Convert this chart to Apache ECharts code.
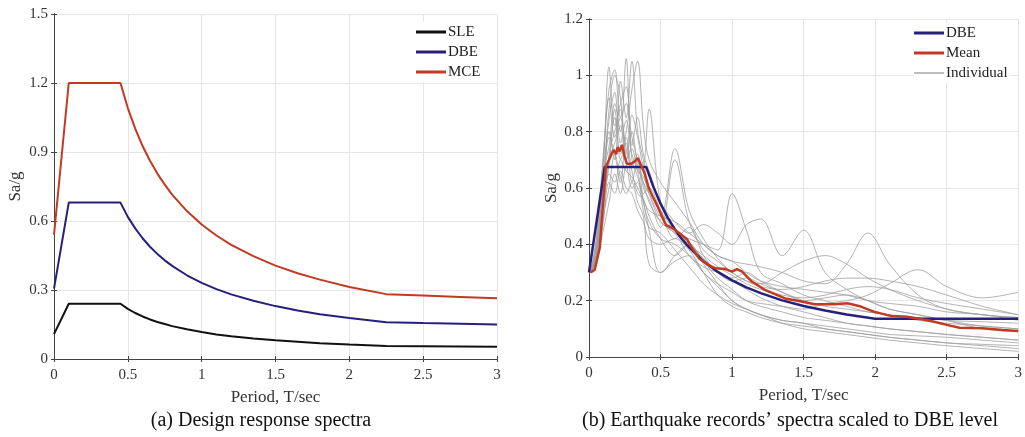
<!DOCTYPE html>
<html>
<head>
<meta charset="utf-8">
<script src="https://cdn.jsdelivr.net/npm/echarts@6/dist/echarts.min.js"></script>
<style>
html,body{margin:0;padding:0;background:#fff;}
#c{width:1025px;height:437px;}
</style>
</head>
<body>
<div id="c"></div>
<script>
// ---- (a) Design response spectra ----
const periodA = [0, 0.1, 0.45, 0.5, 0.55, 0.6, 0.65, 0.7, 0.75, 0.8, 0.9, 1.0, 1.1, 1.2, 1.35, 1.5, 1.65, 1.8, 2.0, 2.25, 2.5, 2.75, 3.0];
const sleValues = [0.108, 0.24, 0.24, 0.218, 0.200, 0.185, 0.172, 0.161, 0.152, 0.143, 0.129, 0.117, 0.107, 0.099, 0.089, 0.081, 0.075, 0.069, 0.063, 0.056, 0.055, 0.054, 0.053];
const dbeValues = [0.306, 0.68, 0.68, 0.618, 0.568, 0.525, 0.488, 0.457, 0.429, 0.405, 0.364, 0.331, 0.304, 0.281, 0.253, 0.230, 0.211, 0.195, 0.178, 0.160, 0.156, 0.153, 0.150];
const mceValues = [0.54, 1.2, 1.2, 1.091, 1.002, 0.926, 0.862, 0.806, 0.758, 0.715, 0.643, 0.585, 0.537, 0.496, 0.447, 0.406, 0.373, 0.345, 0.313, 0.282, 0.276, 0.270, 0.264];

// ---- (b) Records scaled to DBE ----
const dbeBPeriod = [0, 0.11, 0.40, 0.45, 0.5, 0.55, 0.6, 0.65, 0.7, 0.8, 0.9, 1.0, 1.1, 1.2, 1.35, 1.5, 1.65, 1.8, 2.0, 3.0];
const dbeBValues = [0.30, 0.675, 0.675, 0.604, 0.544, 0.495, 0.453, 0.418, 0.389, 0.340, 0.302, 0.272, 0.247, 0.227, 0.201, 0.181, 0.165, 0.151, 0.136, 0.136];

const meanPeriod = [0.012, 0.04, 0.076, 0.10, 0.118, 0.14, 0.157, 0.173, 0.19, 0.2, 0.215, 0.23, 0.25, 0.265, 0.295, 0.318, 0.342, 0.358, 0.388, 0.418, 0.445, 0.48, 0.515, 0.538, 0.584, 0.63, 0.688, 0.722, 0.768, 0.826, 0.884, 0.953, 1.0, 1.034, 1.07, 1.138, 1.23, 1.37, 1.484, 1.576, 1.715, 1.807, 1.90, 1.99, 2.107, 2.222, 2.384, 2.50, 2.59, 2.75, 2.89, 3.0];
const meanValues = [0.30, 0.31, 0.39, 0.56, 0.676, 0.70, 0.72, 0.735, 0.72, 0.745, 0.73, 0.753, 0.71, 0.686, 0.686, 0.694, 0.706, 0.688, 0.653, 0.60, 0.57, 0.534, 0.493, 0.469, 0.457, 0.44, 0.416, 0.386, 0.351, 0.329, 0.315, 0.312, 0.303, 0.312, 0.303, 0.268, 0.238, 0.208, 0.197, 0.187, 0.187, 0.191, 0.179, 0.161, 0.146, 0.143, 0.129, 0.114, 0.104, 0.102, 0.096, 0.092];

const recPeriod = [0.01, 0.05, 0.1, 0.14, 0.18, 0.22, 0.26, 0.3, 0.34, 0.38, 0.42, 0.5, 0.6, 0.7, 0.8, 0.9, 1.0, 1.1, 1.2, 1.35, 1.5, 1.65, 1.8, 1.95, 2.1, 2.3, 2.5, 2.75, 3.0];
const record01 = [0.30,0.42,0.72,0.95,1.02,0.85,0.90,0.78,0.70,0.62,0.55,0.48,0.44,0.40,0.35,0.30,0.27,0.24,0.21,0.18,0.16,0.14,0.12,0.11,0.10,0.09,0.08,0.07,0.06];
const record02 = [0.30,0.38,0.60,0.80,0.70,0.98,0.85,1.05,0.80,0.70,0.60,0.52,0.45,0.42,0.40,0.38,0.58,0.45,0.30,0.26,0.22,0.20,0.18,0.16,0.15,0.13,0.12,0.11,0.10];
const record03 = [0.30,0.40,0.65,0.75,0.90,0.80,1.06,0.75,0.85,0.72,0.66,0.55,0.48,0.44,0.47,0.44,0.40,0.47,0.49,0.36,0.45,0.30,0.24,0.20,0.17,0.15,0.13,0.11,0.10];
const record04 = [0.30,0.36,0.55,0.70,0.85,0.72,0.80,0.95,1.05,0.82,0.70,0.62,0.55,0.48,0.40,0.36,0.34,0.33,0.32,0.30,0.27,0.26,0.33,0.44,0.33,0.22,0.17,0.15,0.14];
const record05 = [0.30,0.35,0.50,0.65,0.62,0.70,0.66,0.64,0.60,0.55,0.45,0.30,0.34,0.36,0.30,0.26,0.23,0.20,0.19,0.18,0.17,0.19,0.20,0.22,0.26,0.31,0.25,0.21,0.23];
const record06 = [0.30,0.38,0.62,0.88,1.00,0.92,0.70,0.80,0.68,0.62,0.58,0.50,0.74,0.52,0.42,0.35,0.30,0.27,0.26,0.30,0.34,0.36,0.33,0.28,0.24,0.20,0.17,0.15,0.14];
const record07 = [0.30,0.34,0.48,0.62,0.58,0.66,0.60,0.58,0.52,0.48,0.42,0.40,0.42,0.38,0.30,0.22,0.18,0.16,0.14,0.12,0.11,0.10,0.09,0.08,0.07,0.06,0.05,0.045,0.04];
const record08 = [0.30,0.40,0.70,0.92,0.78,0.85,0.74,0.68,0.72,0.60,0.56,0.46,0.70,0.48,0.38,0.34,0.30,0.27,0.25,0.24,0.25,0.27,0.28,0.28,0.27,0.25,0.22,0.18,0.15];
const record09 = [0.30,0.36,0.58,0.78,0.72,0.62,0.78,0.66,0.58,0.56,0.50,0.42,0.36,0.40,0.33,0.26,0.20,0.17,0.15,0.13,0.12,0.10,0.09,0.08,0.07,0.06,0.05,0.04,0.03];
const record10 = [0.30,0.35,0.52,0.72,0.80,0.88,0.72,0.86,0.78,0.68,0.88,0.55,0.46,0.40,0.36,0.32,0.29,0.26,0.24,0.22,0.21,0.22,0.24,0.25,0.24,0.21,0.19,0.17,0.15];
const record11 = [0.30,0.33,0.50,0.60,0.72,0.64,0.58,0.62,0.55,0.50,0.33,0.30,0.36,0.40,0.34,0.28,0.24,0.20,0.18,0.16,0.14,0.13,0.12,0.11,0.10,0.09,0.08,0.07,0.06];
const record12 = [0.30,0.37,0.66,0.84,0.94,0.76,0.84,0.72,0.66,0.58,0.60,0.52,0.42,0.46,0.36,0.30,0.27,0.28,0.26,0.23,0.20,0.18,0.17,0.16,0.15,0.14,0.13,0.125,0.12];
const record13 = [0.30,0.34,0.45,0.55,0.65,0.58,0.68,0.60,0.62,0.52,0.46,0.44,0.38,0.32,0.26,0.22,0.19,0.17,0.15,0.12,0.10,0.09,0.08,0.07,0.06,0.05,0.04,0.03,0.02];
const record14 = [0.30,0.39,0.68,1.03,0.82,0.90,0.96,0.70,0.64,0.56,0.52,0.50,0.48,0.44,0.40,0.36,0.34,0.30,0.27,0.25,0.24,0.23,0.22,0.20,0.19,0.18,0.16,0.15,0.13];
const record15 = [0.30,0.36,0.60,0.70,0.76,0.82,0.70,0.74,0.66,0.64,0.58,0.48,0.44,0.36,0.32,0.30,0.28,0.30,0.27,0.23,0.20,0.21,0.22,0.20,0.17,0.15,0.13,0.10,0.09];
const record16 = [0.30,0.35,0.55,0.68,0.88,0.70,0.76,0.62,0.70,0.55,0.48,0.42,0.40,0.36,0.30,0.25,0.20,0.17,0.15,0.13,0.12,0.11,0.10,0.09,0.08,0.075,0.07,0.06,0.05];
const records = [record01, record02, record03, record04, record05, record06, record07, record08, record09, record10, record11, record12, record13, record14, record15, record16];

const FONT = 'Liberation Serif';
const zip = (xs, ys) => xs.map((x, i) => [x, ys[i]]);

const chart = echarts.init(document.getElementById('c'), null, {renderer: 'canvas'});

function xAx(gi, top) {
  return {
    type: 'value', gridIndex: gi, min: 0, max: 3, interval: 0.5, position: top ? 'top' : 'bottom',
    name: top ? '' : 'Period, T/sec', nameLocation: 'middle', nameGap: 30,
    nameTextStyle: {fontFamily: FONT, fontSize: 17, color: '#333'},
    axisLine: {show: true, lineStyle: {color: '#444', width: 1}},
    axisTick: {show: true, inside: true, length: 3, lineStyle: {color: '#444'}},
    axisLabel: {show: !top, fontFamily: FONT, fontSize: 15, color: '#333', margin: 9},
    splitLine: {show: !top, lineStyle: {color: '#e6e6e6', width: 1}}
  };
}
function yAx(gi, max, interval, gap, right) {
  return {
    type: 'value', gridIndex: gi, min: 0, max: max, interval: interval, position: right ? 'right' : 'left',
    name: right ? '' : 'Sa/g', nameLocation: 'middle', nameGap: gap, nameRotate: 90,
    nameTextStyle: {fontFamily: FONT, fontSize: 17, color: '#333'},
    axisLine: {show: true, lineStyle: {color: '#444', width: 1}},
    axisTick: {show: true, inside: true, length: 3, lineStyle: {color: '#444'}},
    axisLabel: {show: !right, fontFamily: FONT, fontSize: 15, color: '#333', margin: 6},
    splitLine: {show: !right, lineStyle: {color: '#e6e6e6', width: 1}}
  };
}

const series = [
  {name: 'SLE', type: 'line', xAxisIndex: 0, yAxisIndex: 0, data: zip(periodA, sleValues), symbol: 'none', lineStyle: {color: '#111111', width: 2}, itemStyle: {color: '#111111'}},
  {name: 'DBE', type: 'line', xAxisIndex: 0, yAxisIndex: 0, data: zip(periodA, dbeValues), symbol: 'none', lineStyle: {color: '#26207a', width: 2}, itemStyle: {color: '#26207a'}},
  {name: 'MCE', type: 'line', xAxisIndex: 0, yAxisIndex: 0, data: zip(periodA, mceValues), symbol: 'none', lineStyle: {color: '#c23a22', width: 2}, itemStyle: {color: '#c23a22'}}
];
records.forEach(r => {
  series.push({name: 'Individual', type: 'line', xAxisIndex: 2, yAxisIndex: 2, data: zip(recPeriod, r), symbol: 'none', smooth: 0.35, z: 1,
    lineStyle: {color: '#a0a0a0', width: 0.8}, itemStyle: {color: '#7a7a7a'}, emphasis: {disabled: true}});
});
series.push({name: 'DBE ', type: 'line', xAxisIndex: 2, yAxisIndex: 2, data: zip(dbeBPeriod, dbeBValues), symbol: 'none', z: 3, lineStyle: {color: '#26207a', width: 2.5}, itemStyle: {color: '#26207a'}});
series.push({name: 'Mean', type: 'line', xAxisIndex: 2, yAxisIndex: 2, data: zip(meanPeriod, meanValues), symbol: 'none', z: 4, lineStyle: {color: '#c23a22', width: 2.5}, itemStyle: {color: '#c23a22'}});

const thinIcon = 'path://M0 0L0.01 0L0.01 0.01Z M0 1L30 1L30 2L0 2Z M0 3L0.01 3L0.01 2.99Z';
const legendBase = {
  orient: 'vertical', itemWidth: 30, itemHeight: 3, itemGap: 0, padding: [0, 2, 0, 0],
  backgroundColor: '#ffffff', selectedMode: false, icon: 'rect',
  textStyle: {fontFamily: FONT, fontSize: 15, color: '#222', lineHeight: 20, padding: [0, 0, 0, -3]}
};

chart.setOption({
  animation: false,
  backgroundColor: '#ffffff',
  grid: [
    {left: 54, top: 14, width: 443, height: 345, show: true, borderWidth: 0, backgroundColor: '#fff'},
    {left: 589, top: 19, width: 433, height: 338, show: true, borderWidth: 0, backgroundColor: '#fff'}
  ],
  title: [
    {text: '(a) Design response spectra', left: 256, top: 406, textAlign: 'center', textStyle: {fontFamily: FONT, fontSize: 20, fontWeight: 'normal', color: '#111'}},
    {text: '(b) Earthquake records\u2019 spectra scaled to DBE level', left: 785, top: 406, textAlign: 'center', textStyle: {fontFamily: FONT, fontSize: 20, fontWeight: 'normal', color: '#111'}}
  ],
  legend: [
    Object.assign({}, legendBase, {left: 416, top: 22, data: ['SLE', 'DBE', 'MCE']}),
    Object.assign({}, legendBase, {left: 914, top: 23, data: ['DBE ', 'Mean', {name: 'Individual', icon: thinIcon}]})
  ],
  xAxis: [xAx(0, false), xAx(0, true), xAx(1, false), xAx(1, true)],
  yAxis: [yAx(0, 1.5, 0.3, 30, false), yAx(0, 1.5, 0.3, 30, true), yAx(1, 1.2, 0.2, 29, false), yAx(1, 1.2, 0.2, 29, true)],
  series: series
});
</script>
</body>
</html>
